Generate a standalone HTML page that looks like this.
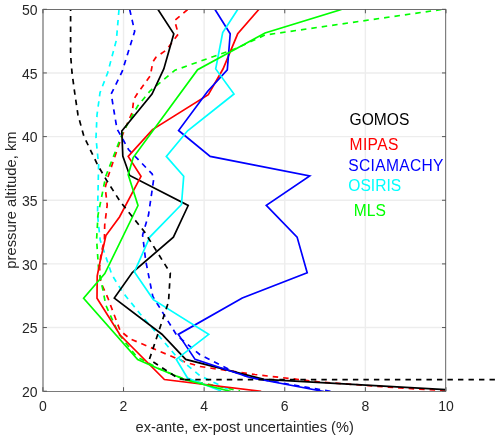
<!DOCTYPE html>
<html><head><meta charset="utf-8"><style>
html,body{margin:0;padding:0;background:#fff;width:500px;height:439px;overflow:hidden}
svg{position:absolute;left:0;top:0;will-change:transform;font-family:"Liberation Sans",sans-serif}
</style></head><body>
<svg width="500" height="439" viewBox="0 0 500 439">
<defs><clipPath id="clip"><rect x="42.5" y="9" width="403.5" height="382.5"/></clipPath></defs>
<rect width="500" height="439" fill="#fff"/>
<line x1="123.52" y1="9.30" x2="123.52" y2="391.20" stroke="#ededed" stroke-width="1.4"/>
<line x1="204.14" y1="9.30" x2="204.14" y2="391.20" stroke="#ededed" stroke-width="1.4"/>
<line x1="284.76" y1="9.30" x2="284.76" y2="391.20" stroke="#ededed" stroke-width="1.4"/>
<line x1="365.38" y1="9.30" x2="365.38" y2="391.20" stroke="#ededed" stroke-width="1.4"/>
<line x1="42.90" y1="327.55" x2="446.00" y2="327.55" stroke="#ededed" stroke-width="1.4"/>
<line x1="42.90" y1="263.90" x2="446.00" y2="263.90" stroke="#ededed" stroke-width="1.4"/>
<line x1="42.90" y1="200.25" x2="446.00" y2="200.25" stroke="#ededed" stroke-width="1.4"/>
<line x1="42.90" y1="136.60" x2="446.00" y2="136.60" stroke="#ededed" stroke-width="1.4"/>
<line x1="42.90" y1="72.95" x2="446.00" y2="72.95" stroke="#ededed" stroke-width="1.4"/>
<g clip-path="url(#clip)" fill="none" stroke-width="1.7" stroke-linejoin="miter" stroke-miterlimit="3">
<polyline points="187.6,9.5 174.6,20.5 178.3,34.0 166.4,50.0 156.0,57.2 152.8,62.0 150.4,75.6 137.6,93.2 133.7,99.5 132.3,112.0 121.0,138.5 107.7,177.7 105.2,187.7 107.2,205.0 104.7,225.0 104.4,240.0 101.0,253.7 99.6,267.3 100.3,279.6 101.6,284.1 107.8,297.8 120.1,330.6 130.0,338.8 185.0,362.0 200.0,366.5 255.0,374.5 320.0,382.0 400.0,388.0 445.6,390.6" stroke="#ff0000" stroke-dasharray="5.5 5"/>
<polyline points="129.7,9.5 134.7,31.3 122.2,71.4 111.2,94.0 113.8,110.0 117.0,129.0 121.3,136.4 128.5,149.5 152.2,174.0 153.7,179.2 148.5,215.0 142.6,235.0 145.7,260.7 152.8,296.5 176.9,335.5 200.0,354.7 232.6,371.3 250.0,377.5 331.4,391.5" stroke="#0000ff" stroke-dasharray="5.5 5"/>
<polyline points="119.0,9.5 116.4,40.0 107.7,72.7 100.0,92.7 97.0,115.0 96.0,138.0 98.6,165.0 97.5,215.0 100.2,240.0 111.8,274.6 122.8,292.4 140.0,313.7 176.3,356.3 200.0,375.7 232.6,391.4" stroke="#00ffff" stroke-dasharray="5.5 5"/>
<polyline points="441.5,9.5 265.0,35.0 235.0,48.9 175.0,70.2 150.0,91.0 137.7,106.0 122.7,132.6 105.7,176.4 98.0,215.0 96.6,239.6 98.5,268.0 102.7,289.0 105.8,305.0 110.0,314.6 119.2,334.6 136.5,356.5 157.5,368.0 185.2,379.4 240.0,391.0" stroke="#00ff00" stroke-dasharray="5.5 5"/>
<polyline points="158.0,9.5 173.8,33.8 163.8,68.9 152.0,94.0 121.8,131.0 122.8,156.0 129.7,175.5 188.2,205.5 173.4,237.1 132.3,272.5 114.3,298.1 161.9,334.2 185.7,359.4 264.0,379.4 445.6,389.6" stroke="#000000"/>
<polyline points="258.8,9.5 237.7,33.8 223.0,69.0 208.3,94.6 152.5,129.6 128.2,156.4 141.0,176.3 119.5,217.0 105.9,235.5 100.0,262.0 97.2,276.0 97.0,298.2 120.1,335.0 164.4,379.5 261.2,391.3" stroke="#ff0000"/>
<polyline points="215.0,9.5 230.2,33.8 227.3,69.9 207.5,91.5 178.6,130.5 210.2,156.4 309.7,175.9 266.3,205.3 297.1,237.1 307.2,272.7 242.3,298.0 178.3,334.4 195.1,359.4 250.0,377.5 324.0,391.5" stroke="#0000ff"/>
<polyline points="237.7,9.5 222.7,32.6 215.7,68.9 234.0,94.0 187.6,130.8 166.3,156.4 183.7,176.2 181.5,204.5 149.8,237.1 134.4,271.9 153.3,299.6 208.7,334.4 176.3,359.4 187.5,378.0 221.2,391.0" stroke="#00ffff"/>
<polyline points="341.5,9.5 265.0,33.0 197.6,69.7 133.2,157.6 128.2,174.7 138.0,205.5 104.8,273.5 83.6,298.2 137.7,359.5 157.5,368.2 185.2,379.8 231.0,391.5" stroke="#00ff00"/>
</g>
<polyline points="70.6,9.5 70.6,55.0 72.0,72.7 75.0,95.0 78.0,115.0 83.9,136.3 97.6,165.0 106.4,180.0 120.2,201.5 144.6,232.0 170.3,273.0 168.5,302.0 149.4,359.4 160.0,366.3 178.8,378.8 184.5,379.6" fill="none" stroke="#000" stroke-width="1.7" stroke-dasharray="5.5 5" stroke-dashoffset="4"/>
<line x1="184.8" y1="379.6" x2="495.2" y2="379.6" stroke="#000" stroke-width="1.7" stroke-dasharray="5.4 5.107"/>
<line x1="42" y1="9.5" x2="446" y2="9.5" stroke="#6e6e6e" stroke-width="1"/>
<line x1="42" y1="391.5" x2="446" y2="391.5" stroke="#7a7a7a" stroke-width="1"/>
<line x1="43" y1="9" x2="43" y2="392" stroke="#a8a8a8" stroke-width="2"/>
<line x1="445.6" y1="9" x2="445.6" y2="392" stroke="#7f7f7f" stroke-width="1.2"/>
<line x1="42.90" y1="391.20" x2="42.90" y2="387.20" stroke="#585858"/>
<line x1="42.90" y1="9.30" x2="42.90" y2="13.30" stroke="#585858"/>
<line x1="123.52" y1="391.20" x2="123.52" y2="387.20" stroke="#585858"/>
<line x1="123.52" y1="9.30" x2="123.52" y2="13.30" stroke="#585858"/>
<line x1="204.14" y1="391.20" x2="204.14" y2="387.20" stroke="#585858"/>
<line x1="204.14" y1="9.30" x2="204.14" y2="13.30" stroke="#585858"/>
<line x1="284.76" y1="391.20" x2="284.76" y2="387.20" stroke="#585858"/>
<line x1="284.76" y1="9.30" x2="284.76" y2="13.30" stroke="#585858"/>
<line x1="365.38" y1="391.20" x2="365.38" y2="387.20" stroke="#585858"/>
<line x1="365.38" y1="9.30" x2="365.38" y2="13.30" stroke="#585858"/>
<line x1="446.00" y1="391.20" x2="446.00" y2="387.20" stroke="#585858"/>
<line x1="446.00" y1="9.30" x2="446.00" y2="13.30" stroke="#585858"/>
<line x1="42.90" y1="391.20" x2="46.90" y2="391.20" stroke="#585858"/>
<line x1="446.00" y1="391.20" x2="442.00" y2="391.20" stroke="#585858"/>
<line x1="42.90" y1="327.55" x2="46.90" y2="327.55" stroke="#585858"/>
<line x1="446.00" y1="327.55" x2="442.00" y2="327.55" stroke="#585858"/>
<line x1="42.90" y1="263.90" x2="46.90" y2="263.90" stroke="#585858"/>
<line x1="446.00" y1="263.90" x2="442.00" y2="263.90" stroke="#585858"/>
<line x1="42.90" y1="200.25" x2="46.90" y2="200.25" stroke="#585858"/>
<line x1="446.00" y1="200.25" x2="442.00" y2="200.25" stroke="#585858"/>
<line x1="42.90" y1="136.60" x2="46.90" y2="136.60" stroke="#585858"/>
<line x1="446.00" y1="136.60" x2="442.00" y2="136.60" stroke="#585858"/>
<line x1="42.90" y1="72.95" x2="46.90" y2="72.95" stroke="#585858"/>
<line x1="446.00" y1="72.95" x2="442.00" y2="72.95" stroke="#585858"/>
<line x1="42.90" y1="9.30" x2="46.90" y2="9.30" stroke="#585858"/>
<line x1="446.00" y1="9.30" x2="442.00" y2="9.30" stroke="#585858"/>
<text x="42.90" y="411" text-anchor="middle" font-size="14" fill="#262626">0</text>
<text x="123.52" y="411" text-anchor="middle" font-size="14" fill="#262626">2</text>
<text x="204.14" y="411" text-anchor="middle" font-size="14" fill="#262626">4</text>
<text x="284.76" y="411" text-anchor="middle" font-size="14" fill="#262626">6</text>
<text x="365.38" y="411" text-anchor="middle" font-size="14" fill="#262626">8</text>
<text x="446.00" y="411" text-anchor="middle" font-size="14" fill="#262626">10</text>
<text x="37.5" y="396.80" text-anchor="end" font-size="14" fill="#262626">20</text>
<text x="37.5" y="333.15" text-anchor="end" font-size="14" fill="#262626">25</text>
<text x="37.5" y="269.50" text-anchor="end" font-size="14" fill="#262626">30</text>
<text x="37.5" y="205.85" text-anchor="end" font-size="14" fill="#262626">35</text>
<text x="37.5" y="142.20" text-anchor="end" font-size="14" fill="#262626">40</text>
<text x="37.5" y="78.55" text-anchor="end" font-size="14" fill="#262626">45</text>
<text x="37.5" y="14.90" text-anchor="end" font-size="14" fill="#262626">50</text>
<text x="244.7" y="431.5" text-anchor="middle" font-size="14.6" fill="#262626">ex-ante, ex-post uncertainties (%)</text>
<text transform="translate(16.3,200) rotate(-90)" x="0" y="0" text-anchor="middle" font-size="14.8" fill="#262626">pressure altitude, km</text>
<text x="349.5" y="124.5" font-size="15.6" fill="#000000">GOMOS</text>
<text x="349.5" y="150.2" font-size="15.6" fill="#ff0000" letter-spacing="0.4">MIPAS</text>
<text x="348.3" y="170.7" font-size="15.6" fill="#0000ff" letter-spacing="0.3">SCIAMACHY</text>
<text x="348.3" y="190.7" font-size="15.6" fill="#00ffff">OSIRIS</text>
<text x="353.8" y="216" font-size="15.6" fill="#00ff00">MLS</text>
</svg>
</body></html>
